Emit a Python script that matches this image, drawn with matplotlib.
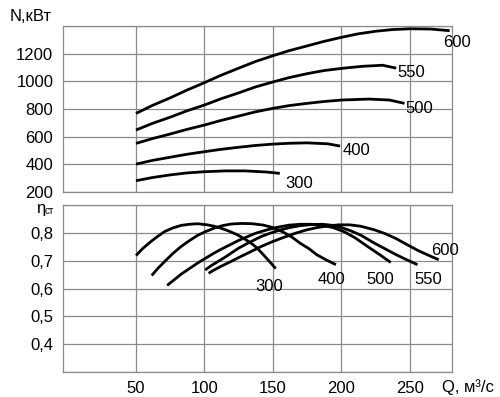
import matplotlib.pyplot as plt

plt.rcParams['font.family'] = ['Liberation Sans', 'DejaVu Sans']

# power N, kW vs flow Q, m3/s (labels = rotor speed)
n_labels = ["600", "550", "500", "400", "300"]
n_q = [
    [50, 62, 75, 87, 100, 112, 125, 137, 150, 162, 175, 187, 200, 212, 225, 237, 250, 265, 279],
    [50, 62, 75, 87, 100, 112, 125, 137, 150, 162, 175, 187, 200, 215, 230, 240],
    [50, 62, 75, 87, 100, 112, 125, 137, 150, 162, 175, 187, 200, 220, 235, 246],
    [50, 62, 75, 87, 100, 112, 125, 137, 150, 162, 175, 190, 199],
    [50, 62, 75, 87, 100, 115, 130, 145, 155],
]
n_val = [
    [767, 825, 880, 935, 990, 1043, 1095, 1142, 1185, 1222, 1256, 1288, 1318, 1343, 1362, 1374, 1380, 1378, 1366],
    [647, 695, 740, 785, 828, 873, 916, 958, 995, 1027, 1055, 1077, 1093, 1108, 1116, 1095],
    [550, 585, 618, 651, 683, 716, 748, 778, 804, 824, 840, 853, 864, 871, 864, 840],
    [400, 427, 450, 471, 490, 507, 522, 535, 545, 551, 554, 547, 531],
    [280, 303, 322, 336, 345, 351, 351, 343, 333],
]

# static efficiency
eta_labels = ["300", "400", "500", "550", "600"]
eta_q = [
    [50, 55, 61, 66, 71, 77, 83, 89, 95, 102, 107, 112, 118, 124, 129, 134, 138, 143, 147, 152],
    [61.5, 66, 71, 77, 83, 89, 95, 101, 107, 113, 119.5, 127, 135, 143, 150, 157, 164, 170, 176, 182, 189, 196],
    [72.7, 78, 83, 89, 95, 101, 107, 113, 119.5, 125, 131.7, 137, 141.5, 148, 155, 162, 170, 178, 186, 194,
     202, 210, 219, 228, 236],
    [100.5, 105, 110, 115, 119.5, 125, 131.7, 137, 141.5, 148, 155, 162, 170, 178, 186, 194, 200, 207, 214,
     224, 232, 240, 248, 255.5],
    [103, 107, 112, 119.5, 125, 131.7, 137, 141.5, 150, 158, 166, 174, 182, 190, 198, 206, 214, 224, 232,
     240, 248, 256, 264, 271],
]
eta_val = [
    [0.719, 0.745, 0.770, 0.789, 0.806, 0.819, 0.828, 0.832, 0.834, 0.830, 0.825, 0.818, 0.807, 0.794,
     0.780, 0.764, 0.748, 0.722, 0.700, 0.672],
    [0.647, 0.673, 0.698, 0.727, 0.752, 0.773, 0.792, 0.806, 0.818, 0.827, 0.833, 0.835, 0.834, 0.829,
     0.820, 0.805, 0.785, 0.763, 0.745, 0.722, 0.703, 0.686],
    [0.611, 0.632, 0.652, 0.672, 0.692, 0.710, 0.728, 0.744, 0.760, 0.774, 0.788, 0.799, 0.806, 0.815,
     0.823, 0.829, 0.832, 0.832, 0.828, 0.820, 0.805, 0.783, 0.752, 0.722, 0.694],
    [0.667, 0.683, 0.698, 0.713, 0.728, 0.746, 0.764, 0.777, 0.788, 0.800, 0.811, 0.820, 0.827, 0.831,
     0.832, 0.828, 0.820, 0.808, 0.793, 0.764, 0.743, 0.722, 0.703, 0.686],
    [0.655, 0.667, 0.680, 0.698, 0.712, 0.728, 0.741, 0.752, 0.770, 0.785, 0.799, 0.811, 0.820, 0.826,
     0.830, 0.830, 0.825, 0.812, 0.798, 0.780, 0.758, 0.737, 0.719, 0.704],
]

x_ticks = [50, 100, 150, 200, 250]
n_ticks = [200, 400, 600, 800, 1000, 1200, 1400]
eta_ticks = [0.4, 0.5, 0.6, 0.7, 0.8]

GRID = "#8a8a8a"

fig = plt.figure(figsize=(5, 3.97), dpi=100)
ax1 = fig.add_axes([0.126, 0.517, 0.778, 0.4175])
ax2 = fig.add_axes([0.126, 0.064, 0.778, 0.4185])


def style(ax):
    ax.set_xlim(-3.3, 280.7)
    ax.set_xticks(x_ticks)
    ax.grid(True, color=GRID, linewidth=0.9)
    for s in ax.spines.values():
        s.set_color(GRID)
        s.set_linewidth(0.9)
    ax.tick_params(length=0, labelsize=12, pad=7)
    ax.set_axisbelow(True)


style(ax1)
ax1.set_ylim(200, 1400)
ax1.set_yticks(n_ticks)
ax1.set_yticklabels([str(t) for t in n_ticks[:-1]] + [""])
ax1.set_xticklabels([])
for q, v in zip(n_q, n_val):
    ax1.plot(q, v, color="black", linewidth=2, solid_capstyle="butt", solid_joinstyle="round")

# curve labels, top panel
ax1.text(274, 1277, "600", fontsize=12, va="center")
ax1.text(241, 1062, "550", fontsize=12, va="center")
ax1.text(246.4, 806, "500", fontsize=12, va="center")
ax1.text(201, 502, "400", fontsize=12, va="center")
ax1.text(158.8, 263, "300", fontsize=12, va="center")

style(ax2)
ax2.set_ylim(0.3, 0.9)
ax2.set_yticks([0.3] + eta_ticks + [0.9])
ax2.set_yticklabels([""] + [f"{t:.1f}".replace(".", ",") for t in eta_ticks] + [""])
ax2.set_xticklabels([str(t) for t in x_ticks])
for q, v in zip(eta_q, eta_val):
    ax2.plot(q, v, color="black", linewidth=2, solid_capstyle="butt", solid_joinstyle="round")

ax2.text(265.8, 0.739, "600", fontsize=12, va="center")
ax2.text(253.6, 0.634, "550", fontsize=12, va="center")
ax2.text(218.4, 0.634, "500", fontsize=12, va="center")
ax2.text(182.8, 0.634, "400", fontsize=12, va="center")
ax2.text(136.9, 0.607, "300", fontsize=12, va="center")

fig.text(0.02, 0.958, "N,кВт", fontsize=12, va="center")
fig.text(0.072, 0.476, "η", fontsize=12, va="center")
fig.text(0.09, 0.468, "ст", fontsize=7, va="center")
fig.text(0.884, 0.026, "Q, м³/с", fontsize=12, va="center")

fig.savefig("out.png", dpi=100)
